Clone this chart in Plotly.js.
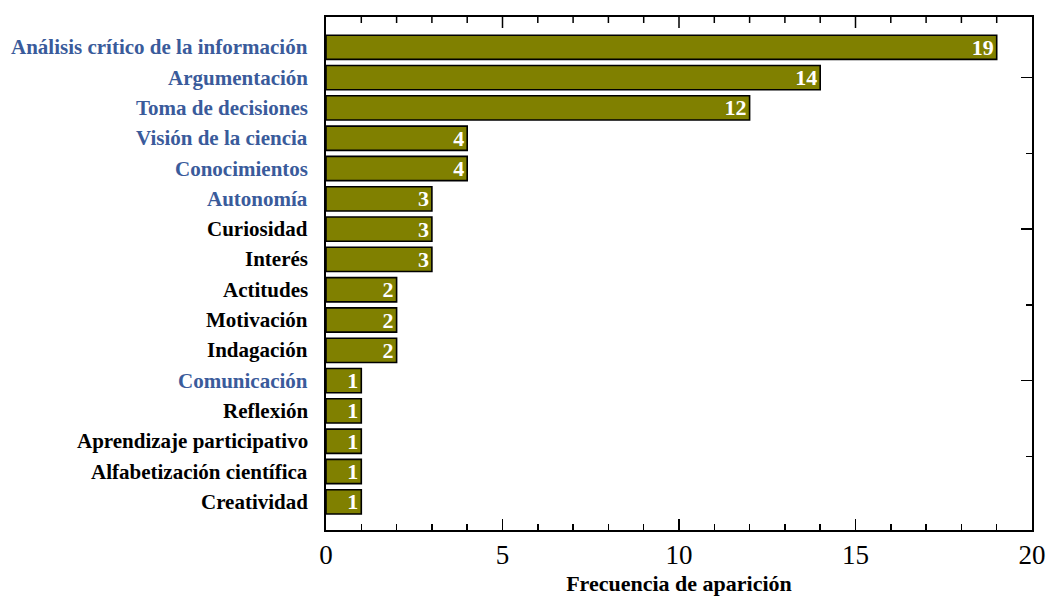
<!DOCTYPE html>
<html>
<head>
<meta charset="utf-8">
<script src="https://cdn.plot.ly/plotly-3.0.1.min.js"></script>
<style>html,body{margin:0;padding:0;background:#fff;}#chart{width:1046px;height:596px;}</style>
</head>
<body>
<div id="chart"></div>
<script>
const categories = [
  "Análisis crítico de la información",
  "Argumentación",
  "Toma de decisiones",
  "Visión de la ciencia",
  "Conocimientos",
  "Autonomía",
  "Curiosidad",
  "Interés",
  "Actitudes",
  "Motivación",
  "Indagación",
  "Comunicación",
  "Reflexión",
  "Aprendizaje participativo",
  "Alfabetización científica",
  "Creatividad"
];
const values = [19, 14, 12, 4, 4, 3, 3, 3, 2, 2, 2, 1, 1, 1, 1, 1];
const highlighted = [
  "Análisis crítico de la información",
  "Argumentación",
  "Toma de decisiones",
  "Visión de la ciencia",
  "Conocimientos",
  "Autonomía",
  "Comunicación"
];
const xTickValues = [0, 5, 10, 15, 20];
const xMinorTickValues = [1, 2, 3, 4, 6, 7, 8, 9, 11, 12, 13, 14, 16, 17, 18, 19];
const rightMajorTicks = [1, 6, 11];
const rightMinorTicks = [3.5, 8.5, 13.5];
const xTitle = "Frecuencia de aparición";

const BLUE = "#3a5b9b";
const positions = categories.map((c, i) => i);
const serif = "Liberation Serif, Times New Roman, serif";

const trace = {
  type: "bar",
  orientation: "h",
  x: values,
  y: positions,
  width: 0.8,
  marker: { color: "#808000", line: { color: "#000", width: 1.6 } },
  text: values.map(String),
  textposition: "inside",
  insidetextanchor: "end",
  textangle: 0,
  constraintext: "none",
  textfont: { family: serif, size: 22, color: "#fff", weight: "bold" },
  hoverinfo: "none"
};

// category labels placed on the y scale, left of the plot area
const labelAnnotations = categories.map((c, i) => ({
  x: 0, xref: "paper", y: positions[i], yref: "y",
  text: "<b>" + c + "</b>",
  xanchor: "right", yanchor: "middle", xshift: -16,
  showarrow: false,
  font: { family: serif, size: 21, color: highlighted.includes(c) ? BLUE : "#000" }
}));

// top-edge ticks, placed on the x scale (pointing down into the plot)
const PLOT_H = 596 - 17 - 66;
function topTick(v, len) {
  return {
    type: "line", xref: "x", yref: "paper",
    x0: v, x1: v, y0: 1, y1: 1 - len / PLOT_H,
    line: { color: "#000", width: 1.5 }, layer: "above"
  };
}
const topTicks = xTickValues.filter(v => v > 0 && v < 20).map(v => topTick(v, 11))
  .concat(xMinorTickValues.map(v => topTick(v, 6)));

const layout = {
  width: 1046,
  height: 596,
  margin: { l: 326, r: 14, t: 17, b: 66 },
  paper_bgcolor: "#fff",
  plot_bgcolor: "#fff",
  showlegend: false,
  font: { family: serif, color: "#000" },
  annotations: labelAnnotations,
  shapes: topTicks,
  xaxis: {
    range: [0, 20],
    tickvals: xTickValues,
    ticks: "inside",
    ticklen: 11,
    tickwidth: 1.5,
    tickcolor: "#000",
    minor: { tickvals: xMinorTickValues, ticks: "inside", ticklen: 6, tickwidth: 1.5, tickcolor: "#000" },
    mirror: true,
    showgrid: false,
    zeroline: false,
    showline: true,
    linecolor: "#000",
    linewidth: 2,
    tickfont: { family: serif, size: 27, color: "#000" },
    title: { text: "<b>" + xTitle + "</b>", font: { family: serif, size: 22, color: "#000" }, standoff: 6 },
    fixedrange: true
  },
  yaxis: {
    range: [15.93, -1],
    side: "right",
    tickvals: rightMajorTicks,
    ticks: "inside",
    ticklen: 11,
    tickwidth: 1.5,
    tickcolor: "#000",
    minor: { tickvals: rightMinorTicks, ticks: "inside", ticklen: 6, tickwidth: 1.5, tickcolor: "#000" },
    showticklabels: false,
    mirror: true,
    showgrid: false,
    zeroline: false,
    showline: true,
    linecolor: "#000",
    linewidth: 2,
    fixedrange: true
  }
};

Plotly.newPlot("chart", [trace], layout, { staticPlot: true, displayModeBar: false });
</script>
</body>
</html>
